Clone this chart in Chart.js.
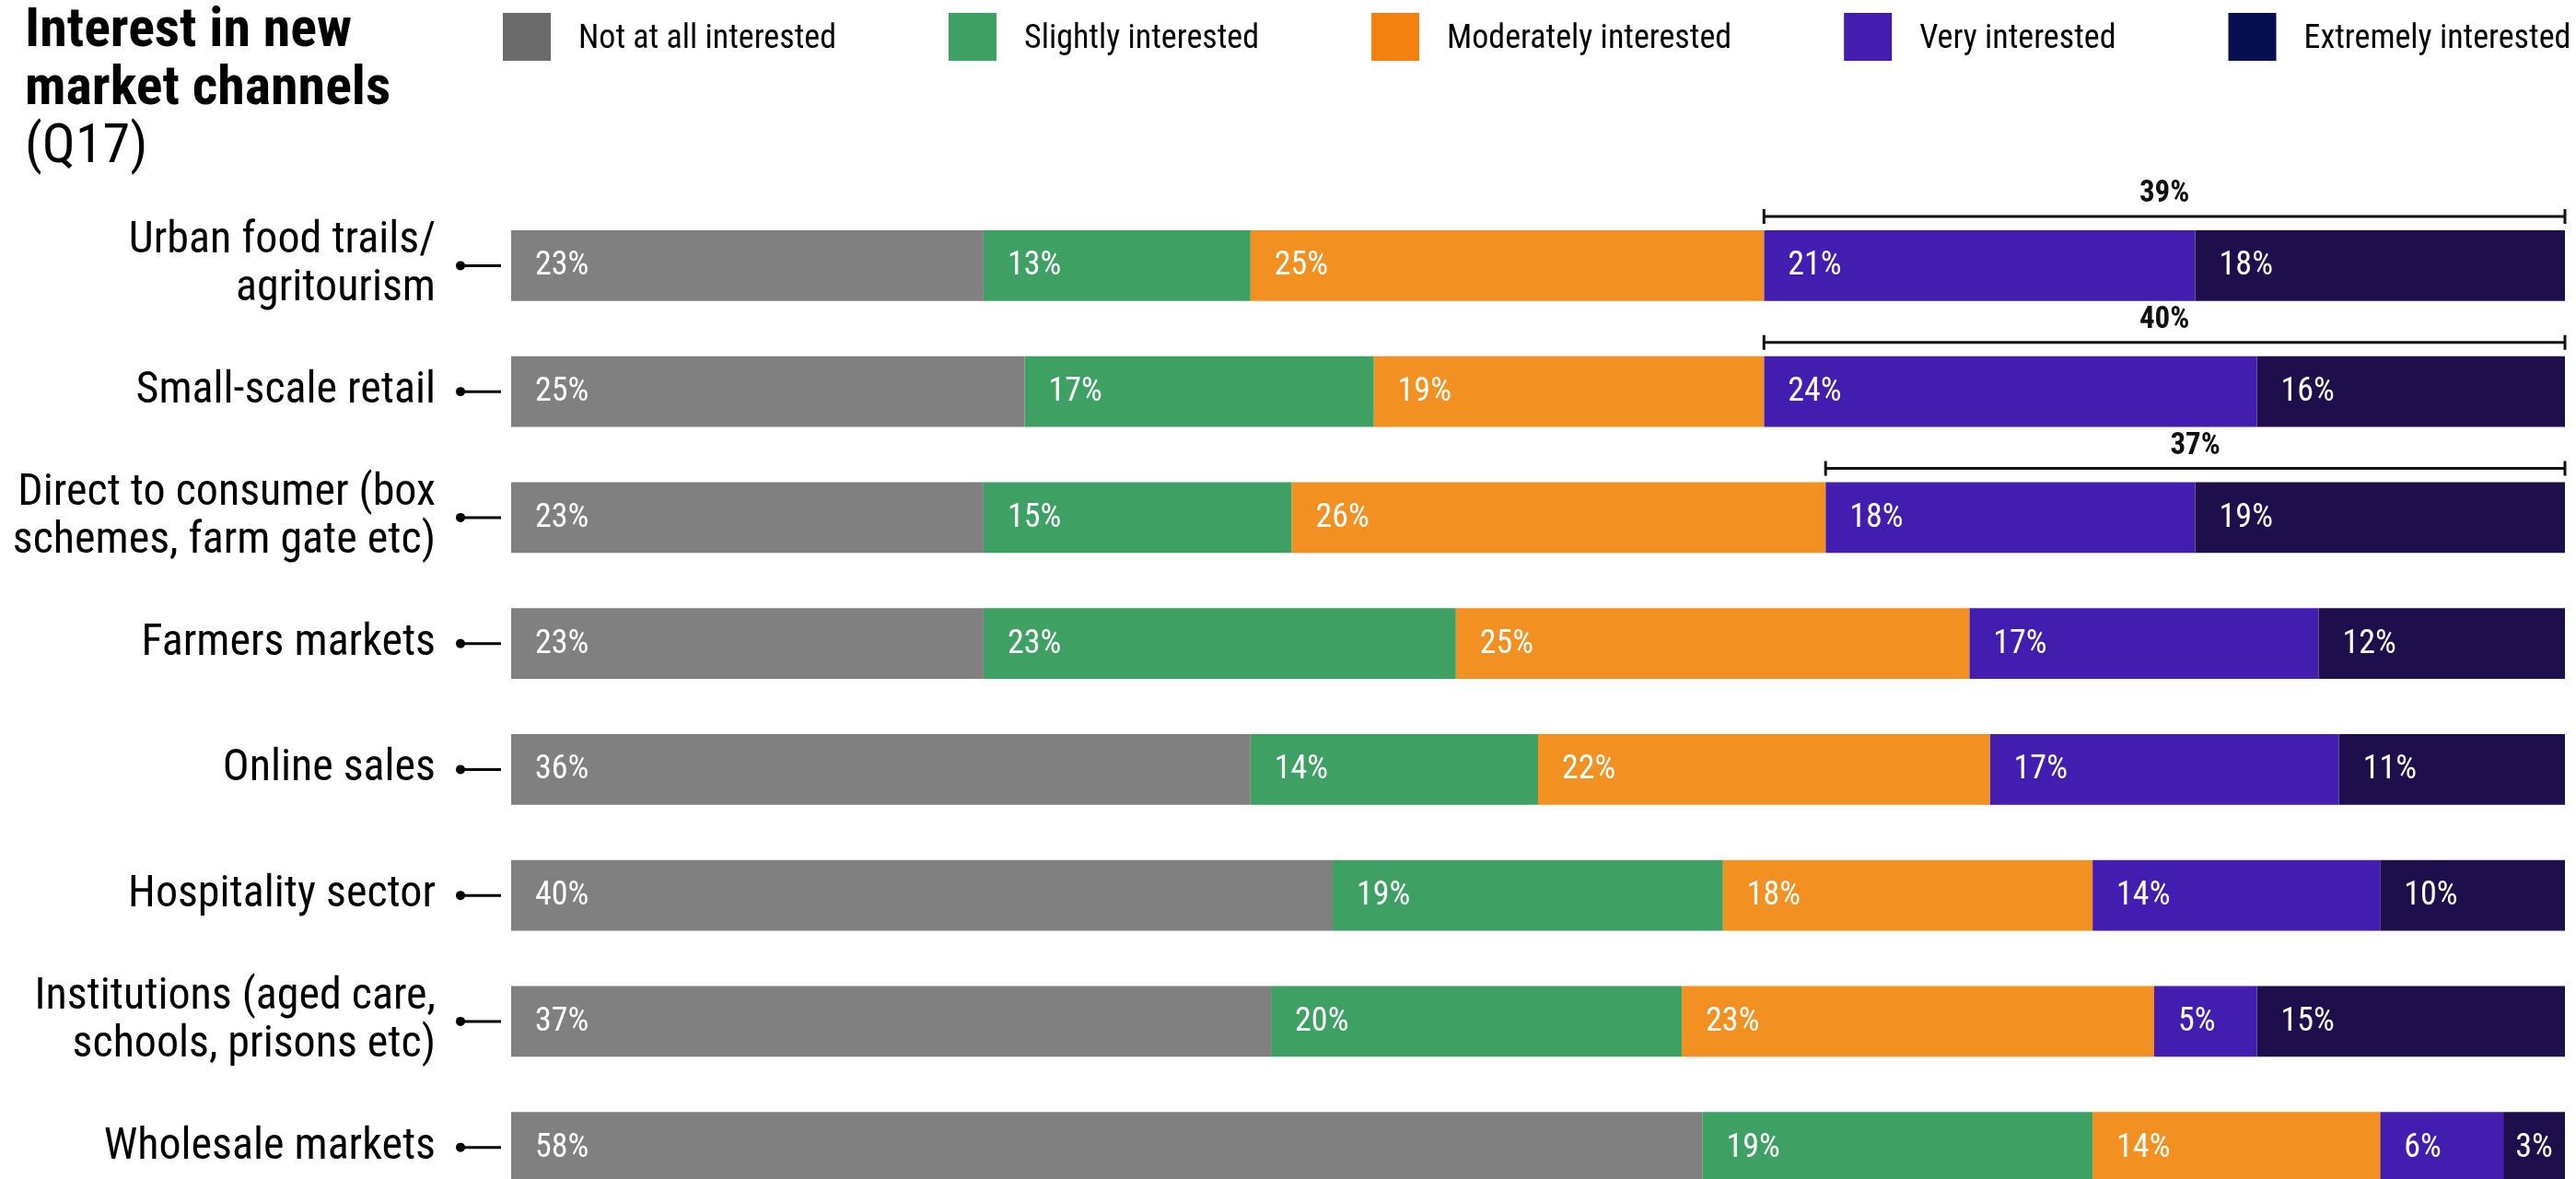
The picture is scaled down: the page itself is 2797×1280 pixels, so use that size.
<!DOCTYPE html>
<html>
<head>
<meta charset="utf-8">
<script src="https://cdn.jsdelivr.net/npm/chart.js@4.4.1/dist/chart.umd.min.js"></script>
<style>
  html, body { margin: 0; padding: 0; background: #fff; overflow: hidden; }
  canvas { display: block; }
</style>
</head>
<body>
<canvas id="chart" width="2797" height="1314"></canvas>
<script>
'use strict';

/* ── Data ───────────────────────────────────────────────────────── */
const categories = [
    ['Urban food trails/', 'agritourism'],
    ['Small-scale retail'],
    ['Direct to consumer (box', 'schemes, farm gate etc)'],
    ['Farmers markets'],
    ['Online sales'],
    ['Hospitality sector'],
    ['Institutions (aged care,', 'schools, prisons etc)'],
    ['Wholesale markets']
];
const seriesNames = ['Not at all interested', 'Slightly interested', 'Moderately interested', 'Very interested', 'Extremely interested'];
const notAtAll   = [23, 25, 23, 23, 36, 40, 37, 58];
const slightly   = [13, 17, 15, 23, 14, 19, 20, 19];
const moderately = [25, 19, 26, 25, 22, 18, 23, 14];
const very       = [21, 24, 18, 17, 17, 14, 5, 6];
const extremely  = [18, 16, 19, 12, 11, 10, 15, 3];
// rows that get a "very + extremely" bracket on top
const bracketRows = [0, 1, 2];

const titleLines = [
    { text: 'Interest in new', bold: true },
    { text: 'market channels', bold: true },
    { text: '(Q17)', bold: false }
];

/* ── Styles ─────────────────────────────────────────────────────── */
const FAMILY = "'Roboto Condensed', Roboto, sans-serif";
const barColors = ['#808080', '#3ea062', '#f29021', '#421db0', '#1e0e4b'];
const legendColors = ['#6b6b6b', '#3ea062', '#f28110', '#441db0', '#070f4f'];
const fontStr = (size, weight) => `condensed ${weight || 400} ${size}px ${FAMILY}`;

/* ── Header: title + legend ─────────────────────────────────────── */
const headerPlugin = {
    id: 'header',
    afterDraw(chart) {
        const ctx = chart.ctx;
        ctx.save();
        ctx.fillStyle = '#000';
        ctx.textBaseline = 'middle';
        ctx.textAlign = 'left';
        titleLines.forEach((ln, i) => {
            ctx.font = fontStr(60, ln.bold ? 700 : 400);
            ctx.fillText(ln.text, 27, 35 + i * 63);
        });

        let x = 546;
        ctx.font = fontStr(36);
        ctx.textBaseline = 'alphabetic';
        seriesNames.forEach((name, i) => {
            ctx.fillStyle = legendColors[i];
            ctx.fillRect(x, 14, 52, 52);
            ctx.fillStyle = '#000';
            ctx.fillText(name, x + 82, 52);
            x += 82 + ctx.measureText(name).width + 122;
        });
        ctx.restore();
    }
};

/* ── Dot + stub connecting each label to its bar ────────────────── */
const connectorPlugin = {
    id: 'connectors',
    afterDraw(chart) {
        const ctx = chart.ctx;
        const yScale = chart.scales.y;
        ctx.save();
        ctx.fillStyle = '#000';
        ctx.strokeStyle = '#000';
        ctx.lineWidth = 3;
        categories.forEach((_, i) => {
            const y = yScale.getPixelForValue(i);
            ctx.beginPath();
            ctx.arc(500, y, 5, 0, Math.PI * 2);
            ctx.fill();
            ctx.beginPath();
            ctx.moveTo(500, y);
            ctx.lineTo(544, y);
            ctx.stroke();
        });
        ctx.restore();
    }
};

/* ── Percent labels inside segments ─────────────────────────────── */
const valueLabelPlugin = {
    id: 'valueLabels',
    afterDatasetsDraw(chart) {
        const ctx = chart.ctx;
        const right = chart.chartArea.right;
        ctx.save();
        ctx.font = fontStr(36);
        ctx.fillStyle = '#fff';
        ctx.textBaseline = 'middle';
        ctx.textAlign = 'left';
        chart.data.datasets.forEach((ds, di) => {
            chart.getDatasetMeta(di).data.forEach((bar, i) => {
                const label = ds.data[i] + '%';
                const x0 = bar.base;
                const x1 = Math.min(bar.x, right);
                const tw = ctx.measureText(label).width;
                const pad = Math.max(0, Math.min(26, (x1 - x0 - tw) / 2));
                ctx.fillText(label, x0 + pad, bar.y + 1);
            });
        });
        ctx.restore();
    }
};

/* ── Brackets summing the two top categories ────────────────────── */
const bracketPlugin = {
    id: 'brackets',
    afterDatasetsDraw(chart) {
        const ctx = chart.ctx;
        const veryMeta = chart.getDatasetMeta(3);
        const extMeta = chart.getDatasetMeta(4);
        ctx.save();
        ctx.strokeStyle = '#111';
        ctx.fillStyle = '#111';
        ctx.lineWidth = 3;
        ctx.font = fontStr(33, 700);
        ctx.textAlign = 'center';
        ctx.textBaseline = 'middle';
        bracketRows.forEach(i => {
            const bar = veryMeta.data[i];
            const x0 = bar.base;
            const x1 = Math.min(extMeta.data[i].x, chart.chartArea.right);
            const y = bar.y - bar.height / 2 - 15;
            ctx.beginPath();
            ctx.moveTo(x0, y); ctx.lineTo(x1, y);
            ctx.moveTo(x0, y - 8); ctx.lineTo(x0, y + 8);
            ctx.moveTo(x1, y - 8); ctx.lineTo(x1, y + 8);
            ctx.stroke();
            ctx.fillText((very[i] + extremely[i]) + '%', (x0 + x1) / 2, y - 24);
        });
        ctx.restore();
    }
};

/* ── Chart ──────────────────────────────────────────────────────── */
const seriesData = [notAtAll, slightly, moderately, very, extremely];

new Chart(document.getElementById('chart'), {
    type: 'bar',
    data: {
        labels: categories,
        datasets: seriesData.map((d, i) => ({
            label: seriesNames[i],
            data: d,
            backgroundColor: barColors[i],
            borderWidth: 0,
            barPercentage: 0.563,
            categoryPercentage: 1
        }))
    },
    options: {
        indexAxis: 'y',
        responsive: false,
        animation: false,
        layout: { padding: { top: 220, right: 12, bottom: 0, left: 0 } },
        scales: {
            x: { stacked: true, min: 0, max: 100, display: false },
            y: {
                stacked: true,
                grid: { display: false },
                border: { display: false },
                ticks: {
                    color: '#000',
                    padding: 74,
                    font: { family: FAMILY, size: 48, weight: 'condensed 400', lineHeight: 1.08 }
                },
                afterFit(scale) {
                    // fixed gutter for the labels; no extra top/bottom reserve
                    scale.width = 555;
                    scale.paddingTop = 0;
                    scale.paddingBottom = 0;
                }
            }
        },
        plugins: {
            legend: { display: false },
            tooltip: { enabled: false }
        }
    },
    plugins: [headerPlugin, connectorPlugin, valueLabelPlugin, bracketPlugin]
});
</script>
</body>
</html>
